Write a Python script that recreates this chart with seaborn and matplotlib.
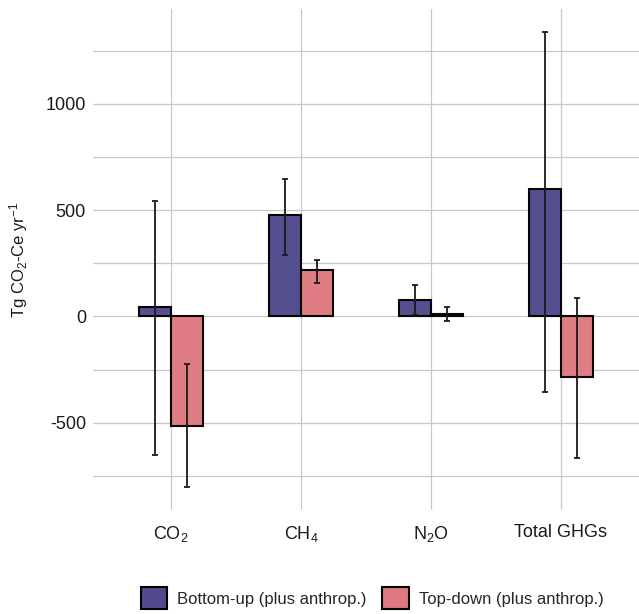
import matplotlib
matplotlib.use("Agg")
import matplotlib.pyplot as plt
import seaborn as sns
import pandas as pd
import numpy as np

categories = ["CO$_2$", "CH$_4$", "N$_2$O", "Total GHGs"]
series = ["Bottom-up (plus anthrop.)", "Top-down (plus anthrop.)"]
bottom_up = [43, 478, 79, 598]
bottom_up_lo = [-652, 288, 7, -354]
bottom_up_hi = [543, 647, 150, 1340]
top_down = [-515, 219, 12, -285]
top_down_lo = [-805, 159, -21, -666]
top_down_hi = [-222, 267, 45, 88]
colors = ["#4E4A8B", "#DF7880"]

sns.set_theme(style="whitegrid")
font = ["Liberation Sans", "DejaVu Sans"]
plt.rcParams["font.family"] = font
plt.rcParams["mathtext.fontset"] = "custom"
plt.rcParams["mathtext.rm"] = "Liberation Sans"
plt.rcParams["mathtext.it"] = "Liberation Sans:italic"

df = pd.DataFrame({
    "cat": categories * 2,
    "series": [series[0]] * 4 + [series[1]] * 4,
    "value": bottom_up + top_down,
})

fig = plt.figure(figsize=(6.39, 6.14), dpi=100)
ax = fig.add_axes([93 / 639, 1 - 510 / 614, 546 / 639, 501 / 614])

sns.barplot(data=df, x="cat", y="value", hue="series", order=categories,
            hue_order=series, palette=colors, width=0.49, errorbar=None,
            edgecolor="black", linewidth=1.5, alpha=0.97, saturation=1,
            ax=ax, zorder=2)

los = [bottom_up_lo, top_down_lo]
his = [bottom_up_hi, top_down_hi]
vals = [bottom_up, top_down]
bar_conts = list(ax.containers)
for i, cont in enumerate(bar_conts):
    xs = [p.get_x() + p.get_width() / 2 for p in cont.patches]
    v = np.array(vals[i]); lo = np.array(los[i]); hi = np.array(his[i])
    ax.errorbar(xs, v, yerr=[v - lo, hi - v], fmt="none", ecolor="#1a1a1a",
                elinewidth=1.3, capsize=2.3, capthick=1.3, zorder=3)

ax.set_xlim(-0.6, 3.6)
ax.set_ylim(-911, 1447)
ax.set_yticks([-500, 0, 500, 1000])
ax.set_yticklabels(["-500", "0", "500", "1000"])
ax.set_yticks([-750, -250, 250, 750, 1250], minor=True)
ax.grid(True, which="both", axis="y", color="#c8c8c8", linewidth=0.9, zorder=0)
ax.grid(True, which="major", axis="x", color="#c8c8c8", linewidth=0.9, zorder=0)
ax.set_axisbelow(True)
for s in ax.spines.values():
    s.set_visible(False)
ax.tick_params(axis="both", which="both", length=0, labelsize=13, labelcolor="#1a1a1a", pad=5)
ax.tick_params(axis="x", pad=10)
ax.set_xlabel("")
ax.set_ylabel("Tg CO$_2$-Ce yr$^{-1}$", fontsize=12, color="#1a1a1a")
ax.yaxis.set_label_coords(-0.115, 0.5)

leg = ax.legend(loc="center", bbox_to_anchor=(0.511, -0.176), ncol=2,
                frameon=False, fontsize=12, handlelength=1.6, handleheight=1.6,
                columnspacing=0.9, handletextpad=0.6)
for h in leg.legend_handles:
    h.set_edgecolor("black")
    h.set_linewidth(1.5)
    h.set_alpha(1)

fig.savefig("out.png", dpi=100)
